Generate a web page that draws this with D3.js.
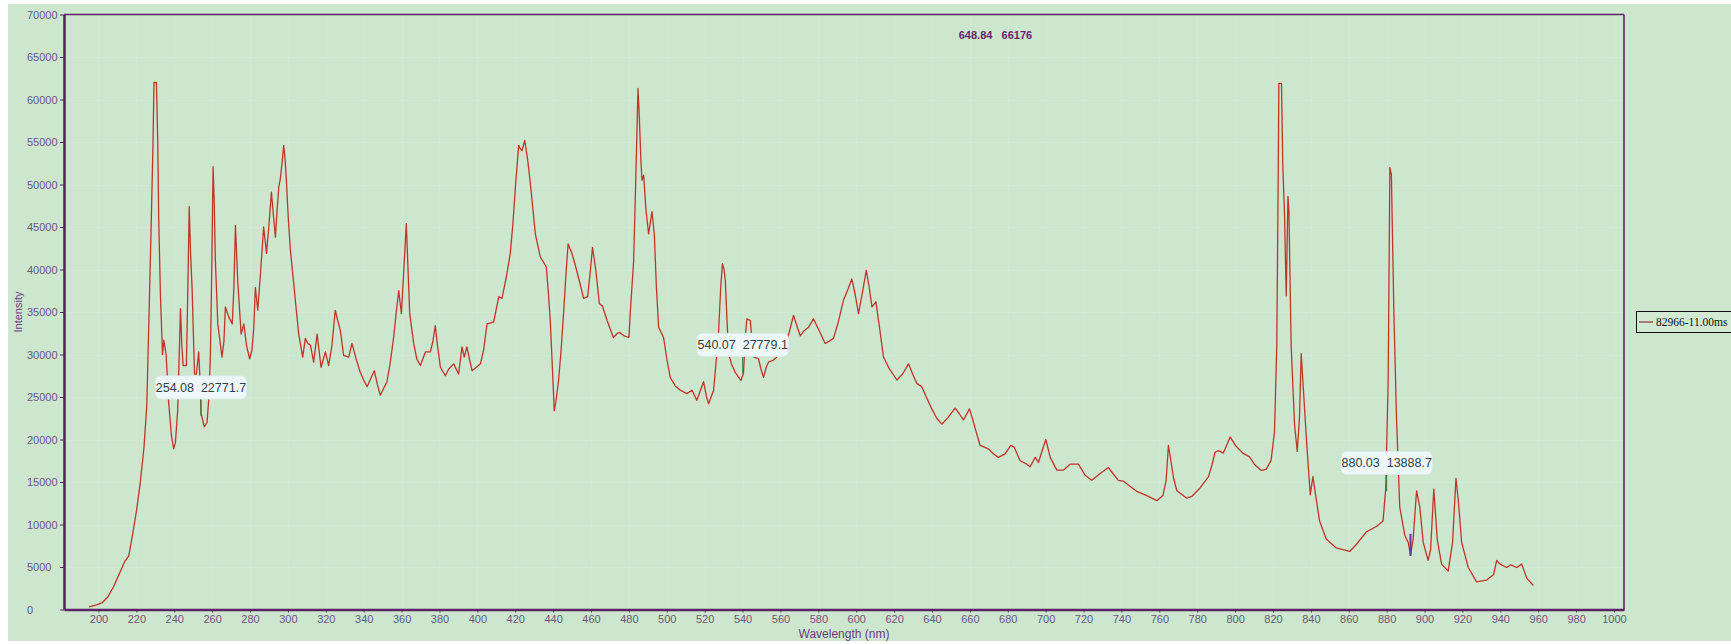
<!DOCTYPE html>
<html>
<head>
<meta charset="utf-8">
<script src="https://cdn.jsdelivr.net/npm/d3@7/dist/d3.min.js"></script>
<style>
  html, body { margin: 0; padding: 0; background: #ffffff; }
  svg { display: block; }
  text { white-space: pre; }
</style>
</head>
<body>
<svg id="chart" width="1731" height="644"></svg>
<script>
// ---------------- data ----------------
const wavelengths = [
195,199,202,205,208,211,214,216,218,220,222,224,225.5,226.5,227.8,228.8,229.3,230.6,231.3,231.8,
232.7,233.8,234.5,235.7,237.1,238.5,239.7,240.6,241.8,243.3,244.0,244.7,246.4,247.2,247.9,248.6,249.4,250.7,251.7,252.9,
253.6,254.2,255.9,257.3,258.3,259.1,259.8,260.5,261.1,261.7,263,265.2,266.2,267,268.8,270.6,271.5,272.3,273.5,275.3,
276.7,278.2,279.8,281,282,282.8,284.1,285.5,287.2,288.7,289.9,291.3,292.3,293.4,294.3,295.2,296,296.9,297.8,298.5,
299.2,300.2,301.3,303.1,304.3,305.7,307.8,309.2,310.5,311.9,313.6,315.4,317.5,319.8,321.5,323.2,325,326.3,327.7,329.4,
332.1,333.8,336,338.2,340,341.8,343.8,345.6,347.2,348.8,350.5,352.3,354,355.8,357.2,358.5,359.9,361.2,362.5,363.4,
364.3,366.4,368,369.9,372.6,375.2,376.5,377.8,379,380.5,383.1,384.9,387.5,390.1,391.9,393.1,394.5,395.8,397.2,399.5,
401.6,403.3,405.1,408.6,411.3,413,415.2,417.4,418.8,420.1,421.8,422.7,423.6,425,426.5,428,430.6,433.2,436.4,437.4,
438.5,439.5,440.6,441.5,442.9,444.2,445.5,446.8,447.9,449.8,451.7,454,456.1,458.2,459.5,460.8,462.5,464.4,466,468.5,
471.8,474,475,477.5,480,480.7,482.5,483.8,484.8,485.5,486.3,486.9,487.8,489,490.4,492.2,493.4,494.5,495.7,498.3,
500,501.8,504.5,507.1,510.6,513.3,515.9,517.8,519.4,521,522.1,524.7,526,527.3,528.5,529.4,530.2,530.9,531.8,532.6,
534.3,536.1,539.1,540.5,541.4,542.3,544.1,545,545.8,548.4,549.8,551.1,552.5,553.7,556,558.1,561.6,564.5,566.9,568.5,
570.4,572.5,574.8,577.4,580.5,583.6,586,588,590.5,593.3,595.5,597.7,599.5,601.2,603.3,605.3,606.8,608.3,610.4,612.4,
614.4,617.5,621.5,624.5,627.6,630,632,634.6,637,639.9,642.5,645.2,648.5,652.2,654.5,656.6,659.8,661.3,662.8,665.4,
669.8,672.5,675.1,678.6,681.6,683.4,686.5,690.1,691.8,694.5,696.2,698.3,700.1,702.4,705.9,709.4,712.9,717.3,720.8,724.4,
728.8,733.1,735.5,738.4,741.1,744.5,748.1,753.4,758.7,761.9,763.6,764.8,766.1,767.5,769.2,774.5,777.1,781.5,785.9,787.8,
789.4,791.2,793.8,797.4,800.5,804.1,807.6,810.2,813.8,816.4,819,820.8,822,822.8,823.1,824.5,825.2,826.1,827,827.9,
828.4,829.6,831.4,832.8,834,834.9,835.8,837.9,839.7,841.1,842.3,844.6,848.1,853.4,860.5,864,869.3,874.6,878.1,879.5,
880.8,881.7,882.5,883.8,885.2,886.9,889.6,891.4,892.6,894,895.8,897.5,899.3,901.9,903.2,904.9,906.7,909,912.5,914.8,
916.6,917.8,919.6,923.1,927.5,932.8,936.4,938.1,939.9,943.4,945.6,948.7,951.3,954,957.5
];
const intensities = [
300,550,800,1500,2700,4200,5700,6300,8800,11500,14800,19000,24000,33000,45000,55000,62000,62000,55000,46000,
37000,30000,31700,30000,24200,20500,18900,19600,23400,35400,31000,28700,28700,38000,47400,42000,37900,27700,27700,30300,
27000,23000,21500,22000,25000,30100,40000,52100,48000,41100,33600,29700,31500,35600,34400,33600,38000,45200,38700,32400,
33600,31000,29500,30500,33200,37900,35200,39500,45000,41900,45000,49100,46500,43800,47000,49700,50700,52500,54600,53000,
50500,46000,42300,38300,35500,32400,29700,31900,31300,31100,29100,32400,28500,30300,28700,31000,35200,34000,32800,29900,
29700,31300,29500,27900,27000,26200,27200,28100,26500,25200,26000,26800,29000,32000,35000,37500,34800,40000,45400,40000,
34800,31300,29500,28700,30300,30300,31500,33400,31000,28500,27500,28300,28900,27700,30900,29700,30900,29500,28100,28500,
28900,30500,33600,33800,36800,36600,39000,41900,45500,49700,54600,54200,54000,55200,53000,50100,44200,41500,40300,37500,
34000,29000,23400,24500,27000,30500,34800,39500,43000,42000,40500,38500,36600,36800,39500,42600,40000,36000,35700,34000,
32000,32500,32600,32200,32000,34800,41000,52000,61300,58000,53000,50500,51100,47000,44200,46800,44200,38000,33200,32000,
29500,27300,26300,25800,25400,25800,24600,25800,26800,25000,24200,25800,29000,32500,38000,40700,40000,38700,34000,30100,
28800,27900,26950,27800,32000,34200,34000,31500,29700,29500,28200,27300,28500,29100,29300,29700,30500,32500,34600,33500,
32200,32800,33200,34200,32800,31300,31600,31900,33800,36400,37600,38900,37000,34800,37300,39900,38000,35600,36200,33000,
29700,28300,27000,27700,28900,27600,26600,26200,25000,23600,22500,21800,22600,23700,23000,22300,23600,22500,21300,19300,
18900,18300,17900,18300,19300,19100,17500,17100,16800,17900,17300,18800,20000,17900,16400,16400,17100,17100,15800,15200,
16000,16700,16000,15200,15100,14500,13900,13400,12800,13400,15200,19300,17500,15500,14000,13100,13300,14300,15600,17000,
18500,18700,18400,20300,19200,18400,17960,17100,16360,16490,17540,20900,31000,52000,61900,61900,52000,46500,36900,48600,
47000,31000,21700,18600,22600,30100,26800,19200,13500,15650,13770,10400,8290,7240,6830,7650,9130,9770,10400,14170,
26800,52000,51200,35200,22600,12080,8710,7890,6400,8290,13960,12080,7890,5770,7030,14170,8290,5340,4510,7890,
15430,12910,7890,4940,3250,3460,4080,5770,5340,4940,5260,4940,5340,3660,2820
];
const xDomain = [181.8, 1005.3];
const yDomain = [0, 70000];
const xTicks = d3.range(200, 1001, 20);
const yTicks = d3.range(0, 70001, 5000);
const readoutWl = [254.08, 540.07, 880.03];
const readoutVal = [22771.7, 27779.1, 13888.7];
const readoutLabels = ["254.08  22771.7", "540.07  27779.1", "880.03  13888.7"];
const cursorWl = 648.84, cursorVal = 66176, cursorLabel = "648.84   66176";
const markerWl = 892.6, markerVals = [8900, 6300];
const seriesName = "82966-11.00ms";
const xTitle = "Wavelength (nm)", yTitle = "Intensity";

// ---------------- layout ----------------
const svg = d3.select("#chart");
const L = 64, R = 1624, T = 14.5, B = 609.5;
const x = d3.scaleLinear().domain(xDomain).range([L, R]);
const y = d3.scaleLinear().domain(yDomain).range([B, T]);

const BG = "#cde7cf";
const AXIS = "#5c2266";
const TICKTXT = "#6b5580";

svg.append("rect").attr("x", 8).attr("y", 4).attr("width", 1731 - 8).attr("height", 641 - 4).attr("fill", BG);

// very faint grid
const grid = svg.append("g").attr("stroke", "#d3ebd5").attr("stroke-width", 1).attr("opacity", 0.5);
grid.selectAll("line.v").data(xTicks).join("line")
  .attr("x1", d => Math.round(x(d)) + 0.5).attr("x2", d => Math.round(x(d)) + 0.5)
  .attr("y1", T).attr("y2", B);
grid.selectAll("line.h").data(yTicks).join("line")
  .attr("y1", d => Math.round(y(d)) + 0.5).attr("y2", d => Math.round(y(d)) + 0.5)
  .attr("x1", L).attr("x2", R);

// frame (top/right thin)
svg.append("line").attr("x1", L).attr("x2", R).attr("y1", T).attr("y2", T).attr("stroke", AXIS).attr("stroke-width", 1.3);
svg.append("line").attr("x1", R).attr("x2", R).attr("y1", T).attr("y2", B).attr("stroke", AXIS).attr("stroke-width", 1.6);

// axes
const yAxis = svg.append("g").attr("transform", `translate(${L},0)`)
  .call(d3.axisLeft(y).tickValues(yTicks).tickSize(4).tickSizeOuter(0).tickFormat(d3.format("d")));
yAxis.select(".domain").attr("stroke", AXIS).attr("stroke-width", 2.6);
yAxis.selectAll(".tick line").attr("stroke", AXIS);
yAxis.selectAll(".tick text").attr("x", 27 - L).attr("text-anchor", "start")
  .attr("fill", TICKTXT).style("font", "11px 'Liberation Sans', Arial, sans-serif");

const xAxis = svg.append("g").attr("transform", `translate(0,${B})`)
  .call(d3.axisBottom(x).tickValues(xTicks).tickSize(3).tickSizeOuter(0).tickPadding(3).tickFormat(d3.format("d")));
xAxis.select(".domain").attr("stroke", AXIS).attr("stroke-width", 2.6);
xAxis.selectAll(".tick line").attr("stroke", AXIS);
xAxis.selectAll(".tick text").attr("fill", TICKTXT).style("font", "11px 'Liberation Sans', Arial, sans-serif");

// axis titles
svg.append("text").attr("x", (L + R) / 2).attr("y", 638).attr("text-anchor", "middle")
  .attr("fill", "#6a3a82").style("font", "12px 'Liberation Sans', Arial, sans-serif").text(xTitle);
svg.append("text").attr("transform", `translate(22,${(T + B) / 2}) rotate(-90)`).attr("text-anchor", "middle")
  .attr("fill", "#6a3a82").style("font", "11px 'Liberation Sans', Arial, sans-serif").text(yTitle);

// spectrum line
const pts = wavelengths.map((w, i) => [w, intensities[i]]);
svg.append("path").datum(pts)
  .attr("d", d3.line().x(d => x(d[0])).y(d => y(d[1])))
  .attr("fill", "none").attr("stroke", "#c2342a").attr("stroke-width", 1.3).attr("stroke-linejoin", "round");

// marker
svg.append("line").attr("x1", x(markerWl)).attr("x2", x(markerWl))
  .attr("y1", y(markerVals[0])).attr("y2", y(markerVals[1])).attr("stroke", "#5a3aa0").attr("stroke-width", 2);

// cursor readout
svg.append("text").attr("x", x(cursorWl) + 10).attr("y", y(cursorVal) - 8)
  .attr("fill", "#6b1f6b").style("font", "bold 11px 'Liberation Sans', Arial, sans-serif")
  .text(cursorLabel);

// readout boxes
readoutWl.forEach((w, i) => {
  const px = x(w), py = y(readoutVal[i]);
  const g = svg.append("g");
  g.append("line").attr("x1", px).attr("x2", px).attr("y1", py - 17).attr("y2", py)
    .attr("stroke", "#2e7d32").attr("stroke-width", 1);
  const bw = 91, bh = 23;
  g.append("rect").attr("x", px - bw / 2).attr("y", py - 17 - bh).attr("width", bw).attr("height", bh)
    .attr("rx", 5).attr("fill", "#eff8f8").attr("stroke", "#d9ecea").attr("stroke-width", 1);
  g.append("text").attr("x", px).attr("y", py - 17 - bh / 2 + 4.5).attr("text-anchor", "middle")
    .attr("fill", "#2f3f4c").style("font", "12.5px 'Liberation Sans', Arial, sans-serif").text(readoutLabels[i]);
});

// legend
const lg = svg.append("g");
lg.append("rect").attr("x", 1636.5).attr("y", 311.5).attr("width", 100).attr("height", 21)
  .attr("fill", "#d2ead4").attr("stroke", "#111").attr("stroke-width", 1);
lg.append("line").attr("x1", 1639).attr("x2", 1653).attr("y1", 322).attr("y2", 322)
  .attr("stroke", "#8a3030").attr("stroke-width", 1.2);
lg.append("text").attr("x", 1656).attr("y", 326).attr("fill", "#111")
  .style("font", "11.5px 'Liberation Serif', 'Times New Roman', serif").text(seriesName);
</script>
</body>
</html>
